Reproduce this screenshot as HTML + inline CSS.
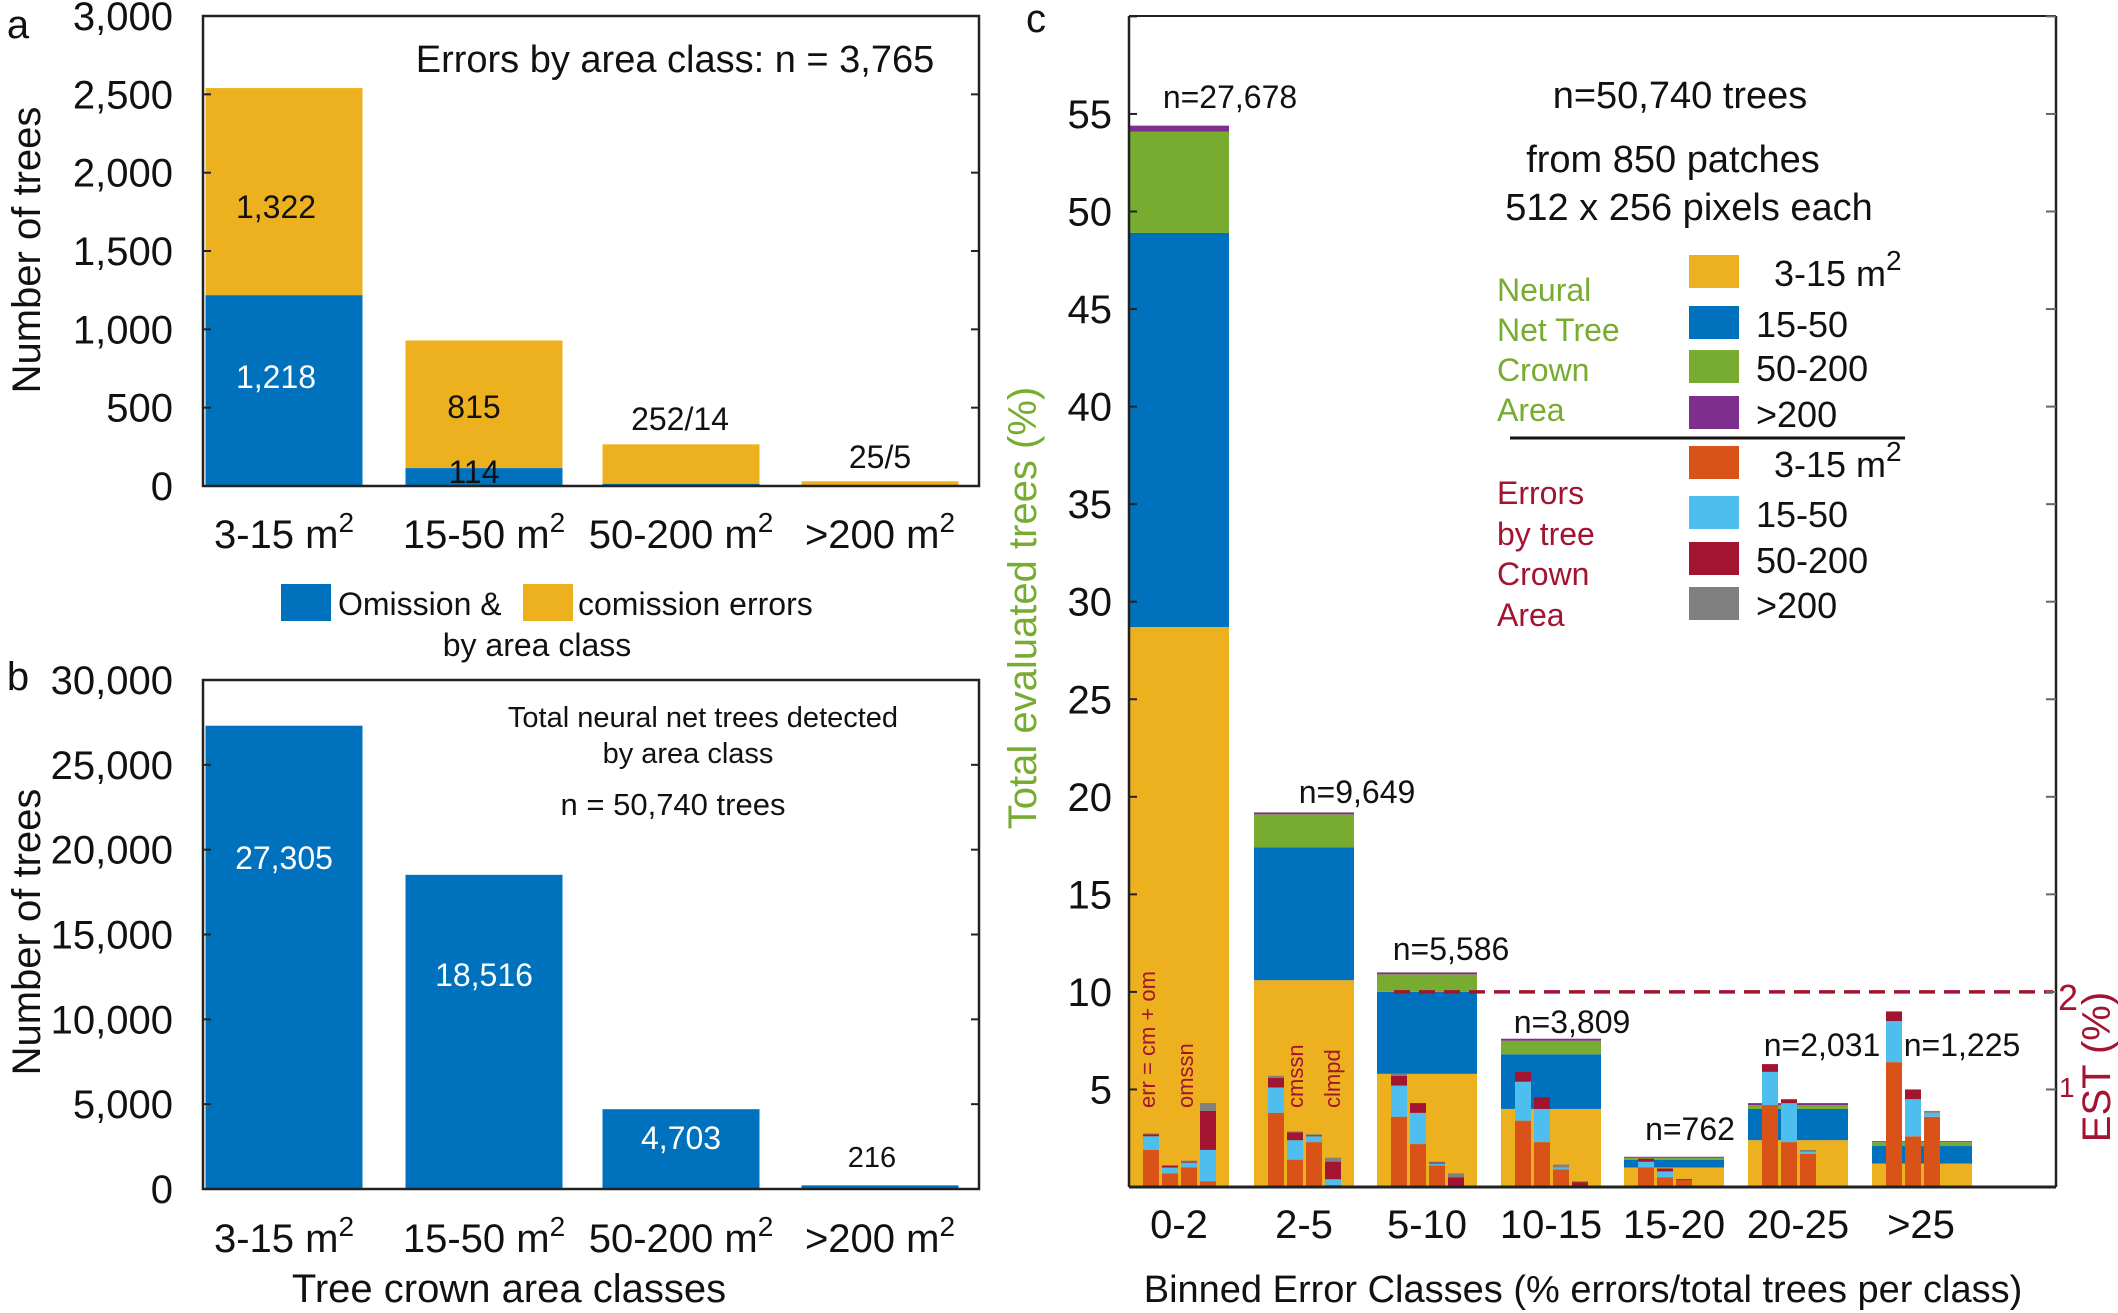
<!DOCTYPE html>
<html><head><meta charset="utf-8"><style>
html,body{margin:0;padding:0;background:#fff}
svg{display:block;font-family:"Liberation Sans",Arial,sans-serif}
</style></head><body>
<svg id="s" width="2118" height="1313" viewBox="0 0 2118 1313" xmlns="http://www.w3.org/2000/svg"></svg>
<script>
const S=document.getElementById('s');let h='';
const Y='#EDB120',B='#0072BD',G='#77AC30',P='#7E2F8E',O='#D95319',LB='#4DBEEE',R='#A2142F',GR='#808080';
function rect(x,y,w,hh,c){h+=`<rect x="${x}" y="${y}" width="${w}" height="${hh}" fill="${c}"/>`;}
function txt(x,y,t,o){o=o||{};h+=`<text x="${x}" y="${y}" font-size="${o.fs||40}" fill="${o.c||'#111'}" text-anchor="${o.a||'middle'}"${o.tr?` transform="${o.tr}"`:''}>${t}</text>`;}
const m2=' m<tspan dy="-16" font-size="28">2</tspan>';
// Panel a
let L=203,Rr=979,T=16,Bt=486;
function ya(v){return Bt-v*(Bt-T)/3000;}
const cx=[284,484,681,880],bw=157;
const ta=[[1218,2540],[114,929],[14,266],[5,30]];
ta.forEach((d,i)=>{rect(cx[i]-bw/2,ya(d[1]),bw,ya(d[0])-ya(d[1]),Y);rect(cx[i]-bw/2,ya(d[0]),bw,Bt-ya(d[0]),B);});
h+=`<rect x="${L}" y="${T}" width="${Rr-L}" height="${Bt-T}" fill="none" stroke="#222" stroke-width="2.5"/>`;
for(let v=0;v<=3000;v+=500){let y=ya(v);h+=`<line x1="${L}" x2="${L+8}" y1="${y}" y2="${y}" stroke="#222" stroke-width="2"/><line x1="${Rr-8}" x2="${Rr}" y1="${y}" y2="${y}" stroke="#222" stroke-width="2"/>`;txt(173,y+14,v.toLocaleString('en-US'),{a:'end'});}
txt(675,72,'Errors by area class: n = 3,765',{fs:38});
txt(276,218,'1,322',{fs:32});txt(276,388,'1,218',{fs:32,c:'#fff'});txt(474,418,'815',{fs:32});txt(474,483,'114',{fs:32});txt(680,430,'252/14',{fs:32});txt(880,468,'25/5',{fs:32});
['3-15','15-50','50-200','>200'].forEach((t,i)=>txt(cx[i],548,t.replace('>','&gt;')+m2,{fs:40}));
rect(281,584,50,37,B);txt(338,615,'Omission &amp;',{fs:32,a:'start'});rect(523,584,50,37,Y);txt(578,615,'comission errors',{fs:32,a:'start'});
txt(537,656,'by area class',{fs:32});
txt(40,250,'Number of trees',{fs:40,tr:'rotate(-90 40 250)'});
txt(18,38,'a',{fs:40});
// Panel b
T=680;Bt=1189;
function yb(v){return Bt-v*(Bt-T)/30000;}
[27305,18516,4703,216].forEach((v,i)=>rect(cx[i]-bw/2,yb(v),bw,Bt-yb(v),B));
h+=`<rect x="${L}" y="${T}" width="${Rr-L}" height="${Bt-T}" fill="none" stroke="#222" stroke-width="2.5"/>`;
for(let v=0;v<=30000;v+=5000){let y=yb(v);h+=`<line x1="${L}" x2="${L+8}" y1="${y}" y2="${y}" stroke="#222" stroke-width="2"/><line x1="${Rr-8}" x2="${Rr}" y1="${y}" y2="${y}" stroke="#222" stroke-width="2"/>`;txt(173,y+14,v.toLocaleString('en-US'),{a:'end'});}
txt(703,727,'Total neural net trees detected',{fs:29});txt(688,763,'by area class',{fs:29});txt(673,815,'n = 50,740 trees',{fs:31});
txt(284,869,'27,305',{fs:32,c:'#fff'});txt(484,986,'18,516',{fs:32,c:'#fff'});txt(681,1149,'4,703',{fs:32,c:'#fff'});txt(872,1167,'216',{fs:29});
['3-15','15-50','50-200','>200'].forEach((t,i)=>txt(cx[i],1252,t.replace('>','&gt;')+m2,{fs:40}));
txt(509,1302,'Tree crown area classes',{fs:40});
txt(40,932,'Number of trees',{fs:40,tr:'rotate(-90 40 932)'});
txt(18,690,'b',{fs:40});
// Panel c
const cL=1129,cR=2056,cT=16,cB=1187,u=19.51;
function yc(v){return cB-v*u;}
const starts=[1129,1254,1377,1501,1624,1748,1872],W=100;
const stk=[[28.7,48.9,54.1,54.4],[10.6,17.4,19.1,19.2],[5.8,10,10.9,11.0],[4,6.8,7.5,7.6],[1.0,1.4,1.5,1.55],[2.4,4.0,4.2,4.3],[1.2,2.1,2.3,2.35]];
const sc=[Y,B,G,P];
stk.forEach((s,i)=>{let p=0;s.forEach((v,j)=>{rect(starts[i],yc(v),W,(v-p)*u,sc[j]);p=v;});});
const sub=[
[[1.9,2.6,2.7,2.75],[0.7,1.0,1.1,1.1],[1.0,1.25,1.3,1.35],[0.3,1.9,3.9,4.3]],
[[3.8,5.1,5.6,5.7],[1.4,2.4,2.8,2.85],[2.3,2.6,2.65,2.7],[0.1,0.4,1.3,1.5]],
[[3.6,5.2,5.7,5.8],[2.2,3.8,4.3,4.3],[1.1,1.2,1.25,1.3],[0.05,0.05,0.5,0.7]],
[[3.4,5.4,5.9,5.9],[2.3,4.0,4.6,4.6],[0.9,1.0,1.0,1.15],[0,0,0.25,0.3]],
[[1.0,1.3,1.45,1.45],[0.5,0.8,0.95,0.95],[0.35,0.35,0.4,0.4]],
[[4.2,5.9,6.3,6.3],[2.3,4.3,4.5,4.5],[1.7,1.8,1.8,1.9]],
[[6.4,8.5,9.0,9.0],[2.6,4.5,5.0,5.0],[3.6,3.8,3.8,3.9]]];
const offs=[14,33,52,71],subc=[O,LB,R,GR];
sub.forEach((bs,i)=>bs.forEach((s,k)=>{let p=0;s.forEach((v,j)=>{if(v>p)rect(starts[i]+offs[k],yc(v),16,(v-p)*u,subc[j]);p=v;});}));
h+=`<line x1="1394" x2="2053" y1="${yc(10)}" y2="${yc(10)}" stroke="#A2142F" stroke-width="3.5" stroke-dasharray="16,9"/>`;
h+=`<line x1="${cL}" x2="${cR}" y1="${cB}" y2="${cB}" stroke="#222" stroke-width="3"/><line x1="${cR}" x2="${cR}" y1="${cT}" y2="${cB}" stroke="#222" stroke-width="2.5"/><line x1="${cL}" x2="${cL}" y1="${cT}" y2="${cB}" stroke="#222" stroke-width="2.5"/><line x1="${cL}" x2="${cR}" y1="${cT}" y2="${cT}" stroke="#222" stroke-width="2"/>`;
for(let v=5;v<=60;v+=5){let y=yc(v);h+=`<line x1="${cL}" x2="${cL+8}" y1="${y}" y2="${y}" stroke="#222" stroke-width="2"/><line x1="${cR-10}" x2="${cR}" y1="${y}" y2="${y}" stroke="#666" stroke-width="2"/>`;if(v<=55)txt(1112,y+14,v,{a:'end'});}
txt(2058,1010,'2',{fs:36,c:R,a:'start'});txt(2059,1097,'1',{fs:28,c:R,a:'start'});
txt(2110,1067,'EST (%)',{fs:40,c:R,tr:'rotate(-90 2110 1067)'});
txt(1036,608,'Total evaluated trees (%)',{fs:40,c:'#77AC30',tr:'rotate(-90 1036 608)'});
['0-2','2-5','5-10','10-15','15-20','20-25','&gt;25'].forEach((t,i)=>txt([1179,1304,1427,1551,1674,1798,1921][i],1238,t,{fs:40}));
txt(1583,1302,'Binned Error Classes (% errors/total trees per class)',{fs:38});
txt(1230,108,'n=27,678',{fs:32});txt(1357,803,'n=9,649',{fs:32});txt(1451,960,'n=5,586',{fs:32});txt(1572,1033,'n=3,809',{fs:32});txt(1690,1140,'n=762',{fs:32});txt(1822,1056,'n=2,031',{fs:32});txt(1962,1056,'n=1,225',{fs:32});
txt(1680,108,'n=50,740 trees',{fs:38});txt(1673,172,'from 850 patches',{fs:38});txt(1689,220,'512 x 256 pixels each',{fs:38});
[['3-15'+m2,Y,272],['15-50',B,323],['50-200',G,367],['&gt;200',P,413],['3-15'+m2,O,463],['15-50',LB,513],['50-200',R,559],['&gt;200',GR,604]].forEach((r,i)=>{rect(1689,r[2]-17,50,33,r[1]);txt(r[0].startsWith('3')?1774:1756,r[2]+14,r[0],{fs:36,a:'start'});});
h+=`<line x1="1510" x2="1905" y1="438" y2="438" stroke="#111" stroke-width="3"/>`;
['Neural','Net Tree','Crown','Area'].forEach((t,i)=>txt(1497,[301,341,381,421][i],t,{fs:32,c:'#77AC30',a:'start'}));
['Errors','by tree','Crown','Area'].forEach((t,i)=>txt(1497,[504,545,585,626][i],t,{fs:32,c:R,a:'start'}));
[['err = cm + om',1155,1108],['omssn',1193,1108],['cmssn',1303,1108],['clmpd',1340,1108]].forEach(r=>txt(r[1],r[2],r[0],{fs:22,c:R,a:'start',tr:`rotate(-90 ${r[1]} ${r[2]})`}));
txt(1036,32,'c',{fs:40});
S.innerHTML=h;
</script>
</body></html>
